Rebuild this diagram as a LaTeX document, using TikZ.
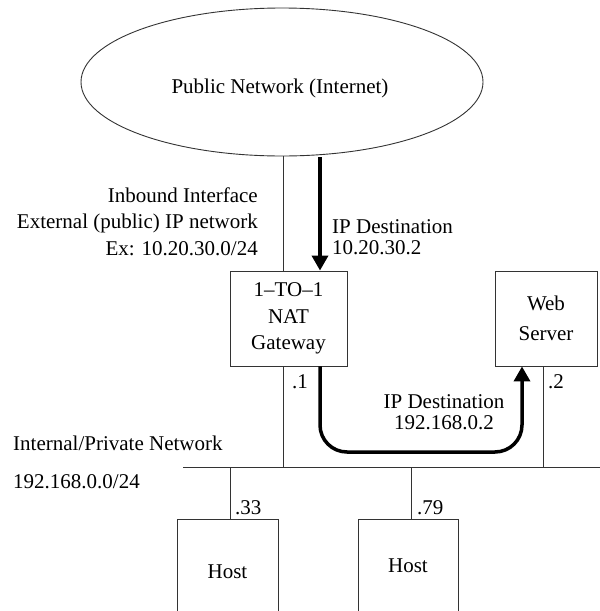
\documentclass[tikz,border=0pt]{standalone}
\usepackage{fontspec}
\setmainfont{Liberation Serif}
\usetikzlibrary{shapes.geometric,arrows.meta}
\tikzset{
  thinline/.style={draw=black!80, line width=0.9pt},
  box/.style={thinline, rectangle, inner sep=0pt, align=center},
  txt/.style={inner sep=0pt, font=\fontsize{21}{26.5}\selectfont},
  flow/.style={line width=3.5pt, -{Triangle[width=16pt,length=15pt]}},
}
\begin{document}
\begin{tikzpicture}[x=1pt,y=-1pt, every node/.style={font=\fontsize{21}{26.5}\selectfont}]
\clip (0,0) rectangle (600,611);
\useasboundingbox (0,0) rectangle (600,611);
% public network
\node[thinline, ellipse, minimum width=402pt, minimum height=148pt, inner sep=0pt] (inet) at (282,82) {};
\node[txt] (inetlabel) at (280,88) {Public Network (Internet)};
% boxes
\node[box, minimum width=117pt, minimum height=95pt] (nat) at (288.5,318.5) {1–TO–1\\NAT\\Gateway};
\node[box, minimum width=102pt, minimum height=95pt, font=\fontsize{21}{30}\selectfont] (web) at (546,318.5) {Web\\Server};
\node[box, minimum width=101pt, minimum height=106pt] (host1) at (227.5,572) {Host};
\node[box, minimum width=100pt, minimum height=94pt] (host2) at (408,566) {Host};
% network bus
\coordinate (busL) at (183,467);
\coordinate (busR) at (600,467);
\coordinate (tapNat) at (283,467);
\coordinate (tapWeb) at (543,467);
\coordinate (tapH1) at (230,467);
\coordinate (tapH2) at (411,467);
\draw[thinline] (busL) -- (busR);
\draw[thinline] (inet.south -| tapNat) -- (nat.north -| tapNat);
\draw[thinline] (nat.south -| tapNat) -- (tapNat);
\draw[thinline] (web.south -| tapWeb) -- (tapWeb);
\draw[thinline] (tapH1) -- (host1.north -| tapH1);
\draw[thinline] (tapH2) -- (host2.north -| tapH2);
% flows
\coordinate (inA) at (320,157);
\draw[flow] (inA) -- (inA |- nat.north);
\coordinate (c1) at (320,452);
\coordinate (c2) at (522,452);
\draw[flow, rounded corners=27pt] (nat.south -| c1) -- (c1) -- (c2) -- (c2 |- web.south);
% labels
\node[txt, anchor=east, align=right] (inbound) at (258,221.5) {Inbound Interface\\External (public) IP network\\Ex: 10.20.30.0/24};
\node[txt, anchor=west, align=left, font=\fontsize{21}{21}\selectfont] (dest1) at (332,237.5) {IP Destination\\10.20.30.2};
\node[txt, align=center, font=\fontsize{21}{21}\selectfont] (dest2) at (444,412.5) {IP Destination\\192.168.0.2};
\node[txt, anchor=west] (intnet) at (13,443) {Internal/Private Network};
\node[txt, anchor=west] (intaddr) at (13,482) {192.168.0.0/24};
\node[txt, anchor=west] (a1) at (292,382) {.1};
\node[txt, anchor=west] (a2) at (548,382) {.2};
\node[txt, anchor=west] (a33) at (235,508) {.33};
\node[txt, anchor=west] (a79) at (417,508) {.79};
\end{tikzpicture}
\end{document}
